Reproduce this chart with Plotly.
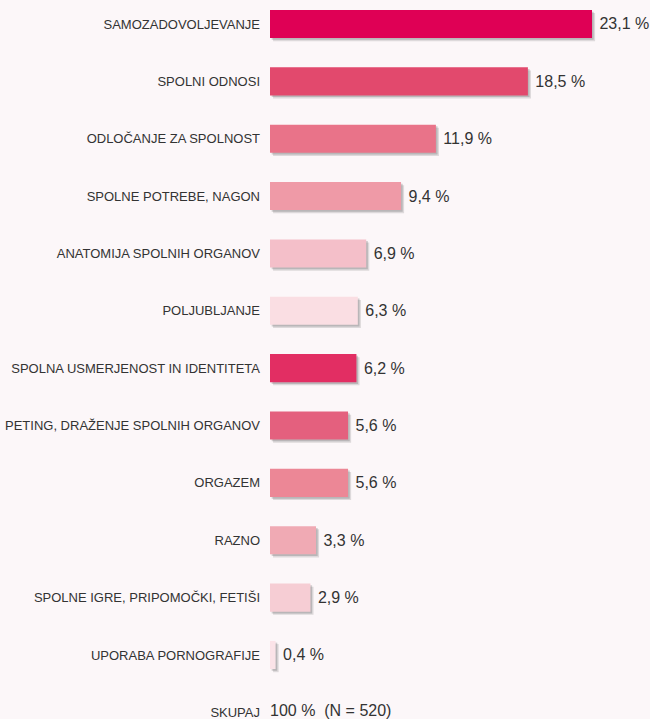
import plotly.graph_objects as go

categories = [
    "SAMOZADOVOLJEVANJE",
    "SPOLNI ODNOSI",
    "ODLOČANJE ZA SPOLNOST",
    "SPOLNE POTREBE, NAGON",
    "ANATOMIJA SPOLNIH ORGANOV",
    "POLJUBLJANJE",
    "SPOLNA USMERJENOST IN IDENTITETA",
    "PETING, DRAŽENJE SPOLNIH ORGANOV",
    "ORGAZEM",
    "RAZNO",
    "SPOLNE IGRE, PRIPOMOČKI, FETIŠI",
    "UPORABA PORNOGRAFIJE",
]
values = [23.1, 18.5, 11.9, 9.4, 6.9, 6.3, 6.2, 5.6, 5.6, 3.3, 2.9, 0.4]
bar_colors = [
    "#DF0055", "#E2496D", "#E97389", "#EF9AA7", "#F4BFC9", "#FADEE3",
    "#E22E63", "#E4607E", "#EC8796", "#F0AAB4", "#F6CDD4", "#FBE3E8",
]
total_label = "SKUPAJ"
total_text = "100 %  (N = 520)"

BG = "#FCF7F9"
FONT = "Liberation Sans, Arial, sans-serif"
BAR_W = 0.49

labels = [" " + f"{v:.1f}".replace(".", ",") + " %" for v in values]
y_cats = categories + [total_label]

fig = go.Figure()

# soft drop shadows (two layers) behind the bars
for dx, dy, alpha in [(0.22, 0.055, 0.16), (0.12, 0.03, 0.22)]:
    fig.add_trace(go.Bar(
        y=categories, x=values, base=dx, orientation="h",
        width=BAR_W, offset=-BAR_W / 2 + dy,
        marker=dict(color=f"rgba(60,60,60,{alpha})", line_width=0),
        hoverinfo="skip", showlegend=False,
    ))

fig.add_trace(go.Bar(
    y=categories, x=values, orientation="h",
    width=BAR_W, offset=-BAR_W / 2,
    marker=dict(color=bar_colors, line_width=0),
    text=labels, textposition="outside", cliponaxis=False,
    textfont=dict(size=16, color="#333333", family=FONT),
    showlegend=False,
))

fig.add_annotation(
    x=0, y=total_label, xref="x", yref="y",
    text=total_text, showarrow=False, xanchor="left", xshift=-2, yshift=2,
    font=dict(size=16, color="#333333", family=FONT),
)

fig.update_layout(
    width=650, height=719,
    margin=dict(l=270, r=0, t=0, b=0),
    paper_bgcolor=BG, plot_bgcolor=BG,
    barmode="overlay",
    font=dict(family=FONT, color="#333333"),
    xaxis=dict(range=[0, 380 / 13.94], visible=False, fixedrange=True),
    yaxis=dict(
        categoryorder="array", categoryarray=y_cats,
        range=[12.116, -0.418], showgrid=False, zeroline=False,
        showline=False, ticks="", ticklabelstandoff=9,
        tickfont=dict(size=13, color="#333333", family=FONT),
    ),
)

fig.write_html(
    "out.html",
    config={"displayModeBar": False},
    post_script="document.body.style.margin='0';document.body.style.background='%s';" % BG,
)
